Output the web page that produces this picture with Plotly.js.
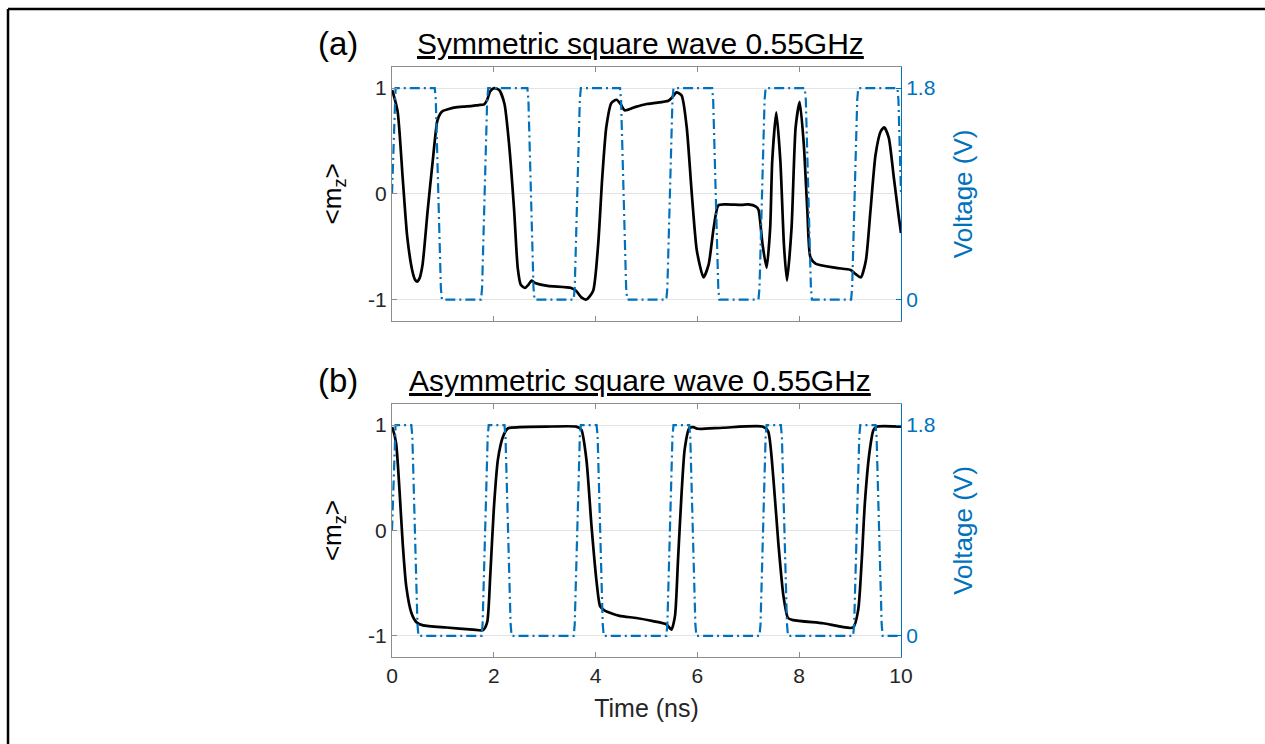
<!DOCTYPE html>
<html>
<head>
<meta charset="utf-8">
<script src="https://cdn.plot.ly/plotly-3.0.1.min.js"></script>
<style>html,body{margin:0;padding:0;background:#fff;}#chart{width:1265px;height:744px;}</style>
</head>
<body>
<div id="chart"></div>
<script>
// ---- Data ----
// (a) Symmetric square wave 0.55GHz : magnetization <m_z>
var symTime = [0.00,0.01,0.11,0.21,0.30,0.40,0.45,0.49,0.54,0.60,0.70,0.80,0.89,0.95,1.00,1.10,1.22,1.40,1.55,1.70,1.81,1.87,1.93,2.01,2.11,2.21,2.30,2.40,2.47,2.53,2.61,2.68,2.74,2.80,3.06,3.52,3.62,3.72,3.82,3.95,4.05,4.13,4.21,4.31,4.41,4.49,4.57,4.77,5.00,5.17,5.43,5.50,5.59,5.69,5.79,5.89,5.99,6.12,6.22,6.32,6.41,6.55,6.87,7.00,7.15,7.20,7.28,7.36,7.43,7.47,7.55,7.63,7.70,7.76,7.85,7.93,8.01,8.09,8.16,8.22,8.32,8.72,9.01,9.11,9.21,9.31,9.40,9.50,9.60,9.67,9.76,9.86,9.96,10.0];
var symMz   = [0.98,0.97,0.78,0.15,-0.41,-0.73,-0.81,-0.83,-0.80,-0.67,-0.16,0.31,0.69,0.76,0.785,0.80,0.815,0.825,0.83,0.84,0.846,0.89,0.97,1.0,0.98,0.85,0.47,-0.16,-0.70,-0.86,-0.89,-0.86,-0.82,-0.84,-0.87,-0.89,-0.92,-0.98,-1.0,-0.92,-0.48,0.15,0.63,0.86,0.89,0.85,0.79,0.82,0.85,0.86,0.88,0.91,0.96,0.93,0.63,0.0,-0.54,-0.79,-0.67,-0.32,-0.11,-0.10,-0.105,-0.10,-0.12,-0.15,-0.48,-0.70,-0.32,0.31,0.77,0.31,-0.48,-0.82,-0.32,0.63,0.87,0.47,-0.16,-0.60,-0.66,-0.70,-0.72,-0.76,-0.79,-0.63,-0.16,0.37,0.59,0.63,0.53,0.15,-0.23,-0.37];
// (a) applied voltage (V)
var symVTime = [0.00,0.05,0.07,0.84,0.86,0.96,0.98,1.75,1.77,1.87,1.89,2.66,2.68,2.78,2.80,3.57,3.59,3.69,3.71,4.48,4.50,4.60,4.62,5.39,5.41,5.51,5.53,6.29,6.31,6.41,6.43,7.20,7.22,7.32,7.34,8.11,8.13,8.23,8.25,9.02,9.04,9.14,9.16,9.93,9.95,10.0];
var symVolt  = [0.9,1.7,1.8,1.8,1.7,0.1,0,0,0.1,1.7,1.8,1.8,1.7,0.1,0,0,0.1,1.7,1.8,1.8,1.7,0.1,0,0,0.1,1.7,1.8,1.8,1.7,0.1,0,0,0.1,1.7,1.8,1.8,1.7,0.1,0,0,0.1,1.7,1.8,1.8,1.7,0.9];

// (b) Asymmetric square wave 0.55GHz : magnetization <m_z>
var asymTime = [0.00,0.01,0.08,0.15,0.21,0.28,0.38,0.48,0.61,1.07,1.59,1.79,1.87,1.93,2.00,2.08,2.18,2.28,2.51,3.03,3.62,3.72,3.82,3.92,4.02,4.09,4.18,4.47,4.80,5.13,5.39,5.49,5.56,5.62,5.69,5.75,5.84,5.92,6.01,6.50,7.29,7.39,7.49,7.59,7.69,7.78,7.88,8.47,9.06,9.16,9.23,9.29,9.38,9.46,9.52,10.0];
var asymMz   = [0.98,0.97,0.83,0.36,-0.12,-0.53,-0.78,-0.87,-0.90,-0.92,-0.94,-0.945,-0.87,-0.43,0.20,0.67,0.89,0.97,0.98,0.985,0.985,0.955,0.67,0.04,-0.49,-0.72,-0.76,-0.81,-0.83,-0.86,-0.89,-0.94,-0.81,-0.27,0.36,0.77,0.97,0.98,0.965,0.975,0.985,0.94,0.51,-0.12,-0.62,-0.83,-0.85,-0.88,-0.92,-0.75,-0.27,0.26,0.74,0.955,0.985,0.985];
// (b) applied voltage (V)
var asymVTime = [0.00,0.05,0.07,0.38,0.40,0.50,0.52,1.76,1.78,1.88,1.90,2.21,2.23,2.33,2.35,3.57,3.59,3.69,3.71,4.02,4.04,4.14,4.16,5.39,5.41,5.51,5.53,5.84,5.86,5.96,5.98,7.22,7.24,7.34,7.36,7.64,7.66,7.76,7.78,9.06,9.08,9.18,9.20,9.50,9.52,9.62,9.64,10.0];
var asymVolt  = [0.9,1.7,1.8,1.8,1.7,0.1,0,0,0.1,1.7,1.8,1.8,1.7,0.1,0,0,0.1,1.7,1.8,1.8,1.7,0.1,0,0,0.1,1.7,1.8,1.8,1.7,0.1,0,0,0.1,1.7,1.8,1.8,1.7,0.1,0,0,0.1,1.7,1.8,1.8,1.7,0.1,0,0];

var timeTicks = [0,2,4,6,8,10];
var mzTicks = [-1,0,1];
var mzTickText = ['-1','0','1'];
var voltTicks = [0,1.8];
var voltTickText = ['0','1.8'];
var panelLabels = ['(a)','(b)'];
var panelTitles = ['Symmetric square wave 0.55GHz','Asymmetric square wave 0.55GHz'];

// ---- Styling ----
var FONT = 'Liberation Sans, Arial, Helvetica, sans-serif';
var TXT = '#262626';
var BLUE = '#0072BD';
var AXC = '#8c8c8c';
var GRID = '#e4e4e4';

var mzLine = {color:'#000000', width:2.7, shape:'spline', smoothing:0.6};
var vLine = {color:BLUE, width:2.2, dash:'10px,4px,2px,4px'};

var traces = [
  {x:symVTime, y:symVolt, xaxis:'x', yaxis:'y2', mode:'lines', line:vLine, hoverinfo:'skip'},
  {x:symTime, y:symMz, xaxis:'x', yaxis:'y', mode:'lines', line:mzLine},
  {x:asymVTime, y:asymVolt, xaxis:'x2', yaxis:'y4', mode:'lines', line:vLine, hoverinfo:'skip'},
  {x:asymTime, y:asymMz, xaxis:'x2', yaxis:'y3', mode:'lines', line:mzLine}
];

function xAx(anchor, labels){
  var a = {domain:[0,1], anchor:anchor, range:[0,10], tickvals:timeTicks, ticks:'inside', ticklen:5,
    tickcolor:AXC, showline:true, linecolor:AXC, linewidth:1, mirror:'ticks', showgrid:false, zeroline:false,
    showticklabels:labels, tickfont:{family:FONT, size:21, color:TXT}};
  if(labels){ a.title = {text:'Time (ns)', font:{family:FONT, size:25, color:TXT}, standoff:13}; }
  return a;
}
function yAx(domain, anchor){
  return {domain:domain, anchor:anchor, range:[-1.2,1.2], tickvals:mzTicks, ticktext:mzTickText,
    ticks:'inside', ticklen:5, tickcolor:AXC, showline:true, linecolor:AXC, linewidth:1,
    showgrid:true, gridcolor:GRID, gridwidth:1, zeroline:false,
    tickfont:{family:FONT, size:21, color:TXT},
    title:{text:'&lt;m<sub>z</sub>&gt;', font:{family:FONT, size:26, color:'#000'}, standoff:19}};
}
function vAx(over, anchor){
  return {overlaying:over, anchor:anchor, side:'right', range:[-0.18,1.98], tickvals:voltTicks, ticktext:voltTickText,
    ticks:'inside', ticklen:5, tickcolor:BLUE, showline:true, linecolor:BLUE, linewidth:1,
    showgrid:false, zeroline:false, tickfont:{family:FONT, size:21, color:BLUE},
    title:{text:'Voltage (V)', font:{family:FONT, size:26, color:BLUE}, standoff:19}};
}

var layout = {
  width:1265, height:744,
  margin:{l:392, r:364, t:67, b:87},
  paper_bgcolor:'#ffffff', plot_bgcolor:'#ffffff',
  showlegend:false,
  font:{family:FONT, color:TXT},
  xaxis:xAx('y', false),
  xaxis2:xAx('y3', true),
  yaxis:yAx([0.570,1],'x'),
  yaxis2:vAx('y','x'),
  yaxis3:yAx([0,0.4288],'x2'),
  yaxis4:vAx('y3','x2'),
  annotations:[
    {text:panelLabels[0], xref:'paper', yref:'paper', x:-0.107, y:1.040, xanchor:'center', yanchor:'middle', showarrow:false, font:{family:FONT, size:33, color:'#000'}},
    {text:'<u>'+panelTitles[0]+'</u>', xref:'paper', yref:'paper', x:0.4875, y:1.040, xanchor:'center', yanchor:'middle', showarrow:false, font:{family:FONT, size:30, color:'#000'}},
    {text:panelLabels[1], xref:'paper', yref:'paper', x:-0.107, y:0.468, xanchor:'center', yanchor:'middle', showarrow:false, font:{family:FONT, size:33, color:'#000'}},
    {text:'<u>'+panelTitles[1]+'</u>', xref:'paper', yref:'paper', x:0.4875, y:0.468, xanchor:'center', yanchor:'middle', showarrow:false, font:{family:FONT, size:30, color:'#000'}}
  ],
  shapes:[
    {type:'line', xref:'paper', yref:'paper', x0:-0.7544, x1:1.8, y0:1.0983, y1:1.0983, line:{color:'#000', width:2.5}},
    {type:'line', xref:'paper', yref:'paper', x0:-0.7544, x1:-0.7544, y0:1.0983, y1:-0.2, line:{color:'#000', width:2.5}}
  ]
};

Plotly.newPlot('chart', traces, layout, {displayModeBar:false, staticPlot:true});
</script>
</body>
</html>
